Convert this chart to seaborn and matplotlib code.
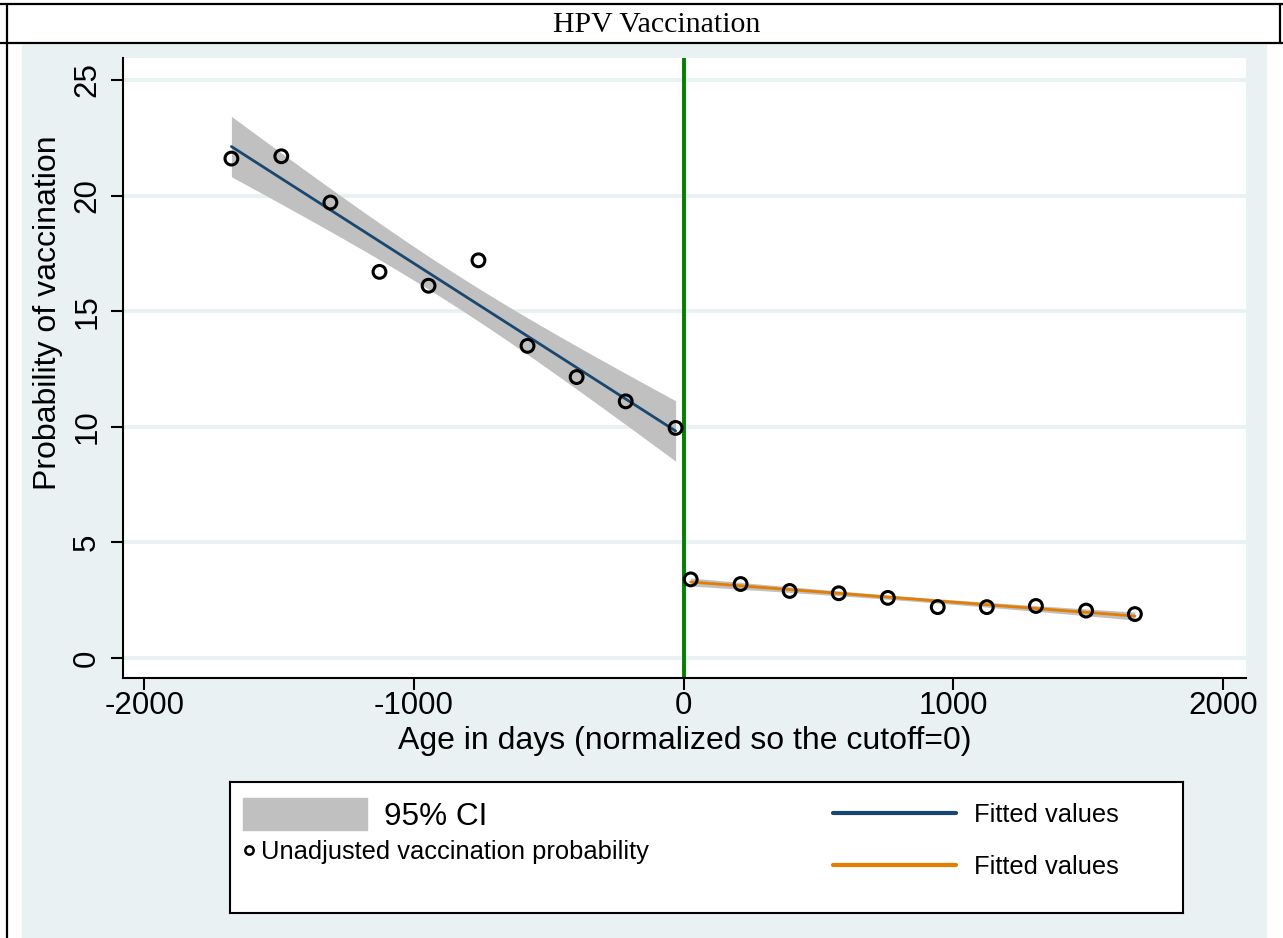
import numpy as np
import pandas as pd
import seaborn as sns
import matplotlib.pyplot as plt
from matplotlib.patches import Rectangle, Patch
from matplotlib.lines import Line2D

# binned points
left_x = [-1677, -1492, -1310, -1128, -946, -761, -579, -397, -215, -30]
left_y = [21.6, 21.7, 19.7, 16.7, 16.1, 17.2, 13.5, 12.15, 11.1, 9.95]
right_x = [26, 211, 393, 575, 757, 942, 1124, 1306, 1492, 1673]
right_y = [3.4, 3.2, 2.9, 2.8, 2.6, 2.2, 2.2, 2.25, 2.05, 1.9]

x_ticks = [-2000, -1000, 0, 1000, 2000]
y_ticks = [0, 5, 10, 15, 20, 25]

bg = "#E9F1F3"
navy = "#1A476F"
orange = "#E37E00"
ci_gray = "#C0C0C0"

sns.set_style("white")
plt.rcParams["font.family"] = ["Liberation Sans", "DejaVu Sans"]
plt.rcParams["axes.unicode_minus"] = False
for k in ["text.color", "axes.labelcolor", "xtick.color", "ytick.color"]:
    plt.rcParams[k] = "black"

W, H = 1283, 938
fig = plt.figure(figsize=(W / 100, H / 100), dpi=100, facecolor="white")

# stata graph region + word table borders
fig.add_artist(Rectangle((22 / W, 0), (1266 - 22) / W, (938 - 45) / H,
                         transform=fig.transFigure, color=bg, zorder=-5))
for xs, ys in [([0, 1], [1 - 4 / H] * 2), ([0, 1], [1 - 43 / H] * 2),
               ([7 / W] * 2, [0, 1 - 4 / H]), ([1280 / W] * 2, [1 - 43 / H, 1 - 4 / H])]:
    fig.add_artist(Line2D(xs, ys, color="black", lw=1.6, transform=fig.transFigure))
fig.text(657 / W, 1 - 25 / H, "HPV Vaccination", family=["Liberation Serif"],
         fontsize=21.5, ha="center", va="center")

ax = fig.add_axes([123 / W, 1 - 678 / H, (1246 - 123) / W, (678 - 58) / H])
ax.set_facecolor("white")


def lfitci(x, y):
    # linear fit with 95% CI of the mean prediction (like stata lfitci)
    x = np.asarray(x, float)
    y = np.asarray(y, float)
    n = len(x)
    b, a = np.polyfit(x, y, 1)
    xs = np.linspace(x.min(), x.max(), 100)
    yhat = a + b * xs
    s = np.sqrt(np.sum((y - (a + b * x)) ** 2) / (n - 2))
    se = s * np.sqrt(1 / n + (xs - x.mean()) ** 2 / np.sum((x - x.mean()) ** 2))
    t = 2.306  # t(.975, df=8)
    return pd.DataFrame({"x": xs, "fit": yhat, "lo": yhat - t * se, "hi": yhat + t * se})


fl = lfitci(left_x, left_y)
fr = lfitci(right_x, right_y)

for f, c in [(fl, navy), (fr, orange)]:
    ax.fill_between(f["x"], f["lo"], f["hi"], color=ci_gray, lw=0, zorder=2)
    sns.lineplot(data=f, x="x", y="fit", color=c, lw=2, ax=ax, zorder=3)

ax.axvline(0, color="#008000", lw=2.8, zorder=2.5)

pts = pd.DataFrame({"x": left_x + right_x, "y": left_y + right_y})
sns.scatterplot(data=pts, x="x", y="y", ax=ax, marker="o", s=85,
                facecolors="none", edgecolor="black", linewidth=2.2, zorder=4)

ax.set_xlim(-2079, 2085)
ax.set_ylim(-0.865, 25.95)
ax.set_xticks(x_ticks)
ax.set_yticks(y_ticks)
ax.yaxis.grid(True, color=bg, lw=2.8)
ax.set_axisbelow(True)
for s in ["top", "right"]:
    ax.spines[s].set_visible(False)
for s in ["left", "bottom"]:
    ax.spines[s].set_color("black")
    ax.spines[s].set_linewidth(1.5)
ax.tick_params(axis="both", which="both", direction="out", length=8.5, width=1.5,
               color="black", labelcolor="black", labelsize=22.5, left=True, bottom=True)
ax.tick_params(axis="x", pad=1)
ax.tick_params(axis="y", pad=6.5)
for lab in ax.get_yticklabels():
    lab.set_rotation(90)
    lab.set_va("center")

ax.set_xlabel("Age in days (normalized so the cutoff=0)", fontsize=23)
ax.xaxis.set_label_coords(0.5, -0.077)
ax.set_ylabel("Probability of vaccination", fontsize=23, va="center")
ax.yaxis.set_label_coords((48 - 123) / (1246 - 123), 0.59)

# legend box
lax = fig.add_axes([230 / W, 1 - 913 / H, (1183 - 230) / W, (913 - 782) / H])
lax.set_facecolor("white")
lax.set_xticks([])
lax.set_yticks([])
for s in lax.spines.values():
    s.set_color("black")
    s.set_linewidth(1.5)

leg1 = lax.legend([Patch(color=ci_gray)], ["95% CI"], loc="center left",
                  bbox_to_anchor=(13 / 953, (913 - 815) / 131), frameon=False, borderpad=0,
                  borderaxespad=0, fontsize=22.7, handlelength=3.94, handleheight=1.2,
                  handletextpad=0.54)
lax.add_artist(leg1)
leg2 = lax.legend([Line2D([], [], ls="", marker="o", ms=6, mfc="none", mec="black", mew=1.8)],
                  ["Unadjusted vaccination probability"], loc="center left",
                  bbox_to_anchor=(13 / 953, (913 - 852) / 131), frameon=False, borderpad=0,
                  borderaxespad=0, fontsize=18.4, handlelength=0.5, handletextpad=0.2)
lax.add_artist(leg2)
lax.legend([Line2D([], [], color=navy, lw=3), Line2D([], [], color=orange, lw=3)],
           ["Fitted values", "Fitted values"], loc="center left",
           bbox_to_anchor=((833 - 230) / 953, (913 - 841) / 131), frameon=False,
           borderpad=0, borderaxespad=0, fontsize=18.4, handlelength=4.8, handletextpad=0.7,
           labelspacing=1.1)

fig.savefig("out.png", dpi=100, facecolor="white")
